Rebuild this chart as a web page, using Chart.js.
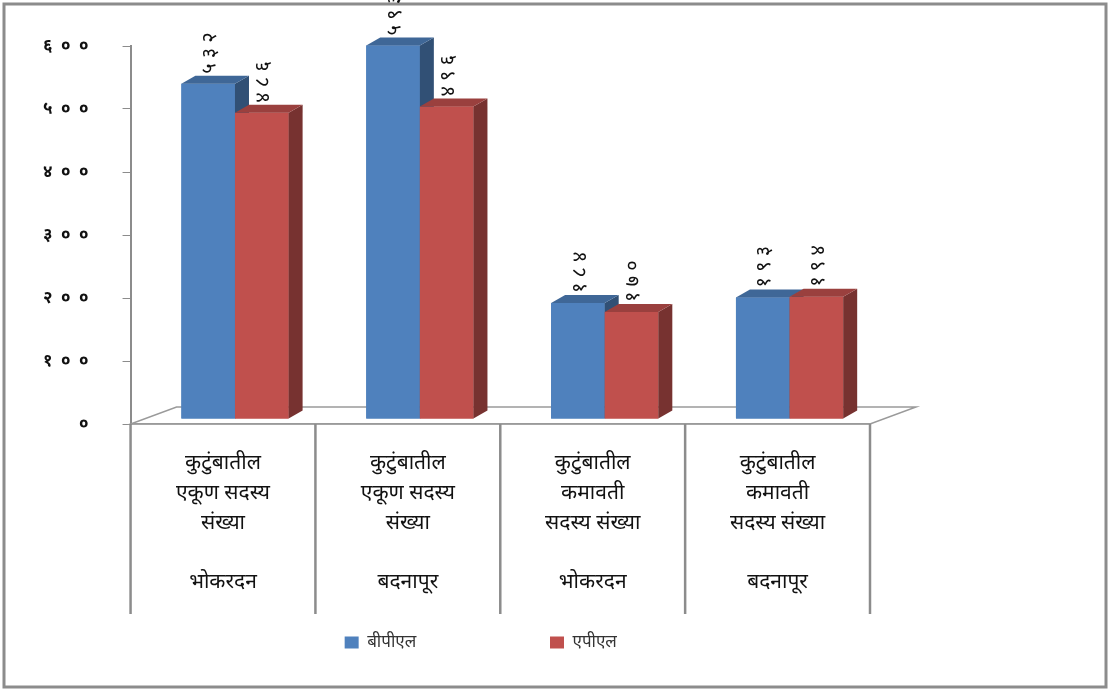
<!DOCTYPE html>
<html>
<head>
<meta charset="utf-8">
<script src="https://cdn.jsdelivr.net/npm/chart.js@4.4.1/dist/chart.umd.min.js"></script>
<style>
  body { margin: 0; background: #fff; }
  #wrap { width: 1110px; height: 691px; }
</style>
</head>
<body>
<div id="wrap"><canvas id="canvas" width="1110" height="691"></canvas></div>
<script>
// categories and series
var categories = [
    ["कुटुंबातील", "एकूण सदस्य", "संख्या", "", "भोकरदन"],
    ["कुटुंबातील", "एकूण सदस्य", "संख्या", "", "बदनापूर"],
    ["कुटुंबातील", "कमावती", "सदस्य संख्या", "", "भोकरदन"],
    ["कुटुंबातील", "कमावती", "सदस्य संख्या", "", "बदनापूर"]
];
var seriesNames = ["बीपीएल", "एपीएल"];
var bplValues = [532, 593, 184, 193];
var aplValues = [486, 496, 170, 194];
var yTicks = [0, 100, 200, 300, 400, 500, 600];

var devDigits = ["०", "१", "२", "३", "४", "५", "६", "७", "८", "९"];
function toDev(n, sep) {
    return String(n).split("").map(function (d) { return devDigits[+d]; }).join(sep || "");
}

var FONT = "'Noto Sans', 'Lohit Devanagari', serif";
var DX = 14, DY = 8;   // bar depth
var FX = 46, FY = 17;  // floor depth
var SX = 12, SY = -5;  // bars stand a little back on the floor

function shade(c, f) {
    var m = c.match(/\d+/g).map(Number);
    return "rgb(" + Math.round(m[0] * f) + "," + Math.round(m[1] * f) + "," + Math.round(m[2] * f) + ")";
}

var threeD = {
    id: "threeD",
    beforeDraw: function (chart) {
        var ctx = chart.ctx;
        ctx.save();
        ctx.strokeStyle = "#8c8c8c";
        ctx.lineWidth = 3;
        ctx.strokeRect(4, 4, chart.width - 8, chart.height - 8);
        ctx.restore();
    },
    beforeDatasetsDraw: function (chart) {
        var ctx = chart.ctx, a = chart.chartArea;
        ctx.save();
        ctx.strokeStyle = "#9a9a9a";
        ctx.lineWidth = 1.5;
        ctx.beginPath();
        ctx.moveTo(a.left, a.bottom);
        ctx.lineTo(a.right, a.bottom);
        ctx.lineTo(a.right + FX, a.bottom - FY);
        ctx.lineTo(a.left + FX, a.bottom - FY);
        ctx.closePath();
        ctx.stroke();
        ctx.restore();
        ctx.save();
        ctx.translate(SX, SY);
    },
    afterDatasetsDraw: function (chart) {
        var ctx = chart.ctx;
        // redraw in series order so the red front hides the blue side
        chart.data.datasets.forEach(function (ds, di) {
            chart.getDatasetMeta(di).data.forEach(function (bar) {
                var l = bar.x - bar.width / 2, r = bar.x + bar.width / 2, t = bar.y, b = bar.base;
                bar.draw(ctx);
                ctx.fillStyle = shade(ds.backgroundColor, 0.62);
                ctx.beginPath();
                ctx.moveTo(r, t); ctx.lineTo(r + DX, t - DY); ctx.lineTo(r + DX, b - DY); ctx.lineTo(r, b);
                ctx.closePath(); ctx.fill();
                ctx.fillStyle = shade(ds.backgroundColor, 0.8);
                ctx.beginPath();
                ctx.moveTo(l, t); ctx.lineTo(l + DX, t - DY); ctx.lineTo(r + DX, t - DY); ctx.lineTo(r, t);
                ctx.closePath(); ctx.fill();
            });
        });
        // value labels, rotated
        chart.data.datasets.forEach(function (ds, di) {
            chart.getDatasetMeta(di).data.forEach(function (bar, i) {
                ctx.save();
                ctx.translate(bar.x + 2, bar.y - DY - 2);
                ctx.rotate(-Math.PI / 2);
                ctx.fillStyle = "#111";
                ctx.font = "20px " + FONT;
                ctx.textAlign = "left";
                ctx.textBaseline = "middle";
                ctx.fillText(toDev(ds.data[i], " "), 0, 0);
                ctx.restore();
            });
        });
        ctx.restore();
    },
    afterDraw: function (chart) {
        var ctx = chart.ctx, a = chart.chartArea, xs = chart.scales.x;
        var step = xs.getPixelForValue(1) - xs.getPixelForValue(0);
        ctx.save();
        ctx.strokeStyle = "#8c8c8c";
        ctx.lineWidth = 2.5;
        for (var i = 0; i <= categories.length; i++) {
            var x = xs.getPixelForValue(i) - step / 2;
            ctx.beginPath();
            ctx.moveTo(x, a.bottom);
            ctx.lineTo(x, a.bottom + 190);
            ctx.stroke();
        }
        ctx.restore();
    }
};

new Chart("canvas", {
    type: "bar",
    data: {
        labels: categories,
        datasets: [{
            label: seriesNames[0],
            data: bplValues,
            backgroundColor: "rgb(79,129,189)"
        }, {
            label: seriesNames[1],
            data: aplValues,
            backgroundColor: "rgb(192,80,77)"
        }]
    },
    options: {
        responsive: false,
        animation: false,
        layout: { padding: { left: 9, right: 240, top: 46, bottom: 30 } },
        categoryPercentage: 0.58,
        barPercentage: 1.0,
        plugins: {
            tooltip: { enabled: false },
            legend: {
                position: "bottom",
                align: "end",
                labels: {
                    boxWidth: 14, boxHeight: 12,
                    padding: 10,
                    color: "#333",
                    font: { family: FONT, size: 17 },
                    generateLabels: function (chart) {
                        var items = Chart.defaults.plugins.legend.labels.generateLabels(chart);
                        items[0].text = items[0].text + "\u00a0".repeat(28);
                        items[1].text = items[1].text + "\u00a0".repeat(55);
                        return items;
                    }
                }
            }
        },
        scales: {
            x: {
                grid: { display: false },
                border: { display: true, color: "#9a9a9a", width: 1.5 },
                afterFit: function (s) { s.height = 200; },
                ticks: {
                    color: "#111",
                    padding: 16,
                    font: { family: FONT, size: 21, lineHeight: 1.42 },
                    maxRotation: 0
                }
            },
            y: {
                min: 0, max: 600,
                afterBuildTicks: function (s) { s.ticks = yTicks.map(function (v) { return { value: v }; }); },
                grid: { drawOnChartArea: false, drawTicks: true, tickLength: 8, color: "#8c8c8c" },
                border: { display: true, color: "#8c8c8c", width: 2 },
                ticks: {
                    color: "#111",
                    padding: 34,
                    font: { family: FONT, size: 17, weight: "bold" },
                    callback: function (v) { return toDev(v, "\u2002"); }
                }
            }
        }
    },
    plugins: [threeD]
});
</script>
</body>
</html>
